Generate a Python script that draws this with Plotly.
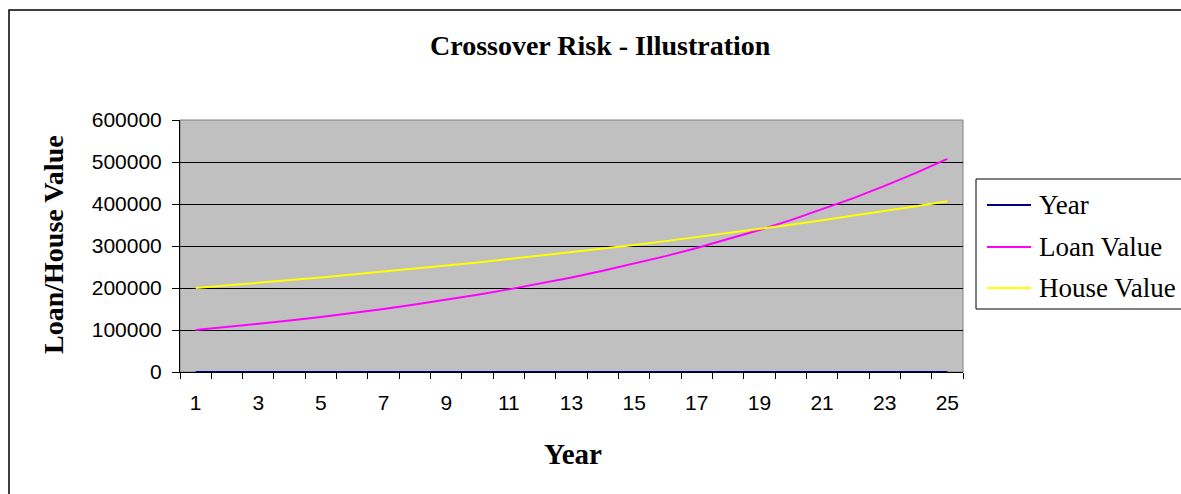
import plotly.graph_objects as go

years = list(range(1, 26))
year_series = list(range(1, 26))
loan_value = [100000, 107000, 114490, 122504, 131080, 140255, 150073, 160578,
              171819, 183846, 196715, 210485, 225219, 240985, 257853, 275903,
              295216, 315882, 337993, 361653, 386968, 414056, 443040, 474053, 507237]
house_value = [200000, 206000, 212180, 218545, 225102, 231855, 238810, 245975,
               253354, 260955, 268783, 276847, 285152, 293707, 302518, 311593,
               320941, 330570, 340487, 350701, 361222, 372059, 383221, 394717, 406558]
series_names = ["Year", "Loan Value", "House Value"]
series_colors = ["#000080", "#FF00FF", "#FFFF00"]
x_tick_labels = [str(y) for y in years[::2]]
y_ticks = [0, 100000, 200000, 300000, 400000, 500000, 600000]

W, H = 1181, 494
L, R, T, B = 180, 963, 120, 372
pw, ph = R - L, B - T

def px(x):
    return (x - L) / pw

def py(y):
    return 1 - (y - T) / ph

SERIF = "Times New Roman, Liberation Serif, serif"
SANS = "Arial, Liberation Sans, sans-serif"

fig = go.Figure()
for name, color, vals in zip(series_names, series_colors,
                             [year_series, loan_value, house_value]):
    fig.add_trace(go.Scatter(x=years, y=vals, name=name, mode="lines",
                             line=dict(color=color, width=2), showlegend=False))

boundaries = [y - 0.5 for y in years] + [years[-1] + 0.5]

shapes = [
    dict(type="rect", xref="paper", yref="paper", x0=0, x1=1, y0=0, y1=1,
         line=dict(color="#808080", width=1), layer="below"),
    dict(type="rect", xref="paper", yref="paper",
         x0=px(9), x1=px(1190), y0=py(10), y1=py(505),
         line=dict(color="black", width=1.5)),
    # legend box
    dict(type="rect", xref="paper", yref="paper",
         x0=px(976), x1=px(1190), y0=py(179), y1=py(309),
         line=dict(color="black", width=1), fillcolor="white"),
]
annotations = [
    dict(text="<b>Crossover Risk - Illustration</b>", xref="paper", yref="paper",
         x=px(600), y=py(46), xanchor="center", yanchor="middle", showarrow=False,
         font=dict(family=SERIF, size=28, color="black")),
    dict(text="<b>Year</b>", xref="paper", yref="paper",
         x=px(573), y=py(454), xanchor="center", yanchor="middle", showarrow=False,
         font=dict(family=SERIF, size=29, color="black")),
    dict(text="<b>Loan/House Value</b>", xref="paper", yref="paper",
         x=px(53), y=py(245), xanchor="center", yanchor="middle", showarrow=False,
         textangle=-90, font=dict(family=SERIF, size=28, color="black")),
]
legend_rows = [205, 247, 288]
for name, color, yrow in zip(series_names, series_colors, legend_rows):
    shapes.append(dict(type="line", xref="paper", yref="paper",
                       x0=px(987), x1=px(1031), y0=py(yrow), y1=py(yrow),
                       line=dict(color=color, width=2)))
    annotations.append(dict(text=name, xref="paper", yref="paper",
                            x=px(1037), y=py(yrow), xanchor="left", yanchor="middle",
                            showarrow=False,
                            font=dict(family=SERIF, size=27, color="black")))

fig.update_layout(
    width=W, height=H,
    margin=dict(l=L, r=W - R, t=T, b=H - B, pad=0),
    paper_bgcolor="white",
    plot_bgcolor="#C0C0C0",
    showlegend=False,
    xaxis=dict(
        range=[0.5, 25.5], tickmode="array",
        tickvals=years[::2], ticktext=x_tick_labels,
        ticks="", showgrid=False, zeroline=False,
        showline=True, linecolor="black", linewidth=1, layer="below traces",
        ticklabelstandoff=12,
        tickfont=dict(family=SANS, size=21, color="black"),
        minor=dict(tickmode="array", tickvals=boundaries, ticks="outside",
                   ticklen=6, tickcolor="black", showgrid=False),
    ),
    yaxis=dict(
        range=[0, 600000], tickmode="array", tickvals=y_ticks,
        ticktext=[str(v) for v in y_ticks],
        ticks="outside", ticklen=7, tickcolor="black",
        showgrid=True, gridcolor="black", gridwidth=1, zeroline=False,
        showline=True, linecolor="black", linewidth=1, layer="below traces",
        ticklabelstandoff=6,
        tickfont=dict(family=SANS, size=21, color="black"),
    ),
    shapes=shapes,
    annotations=annotations,
)

fig.write_html("out.html", config={"displayModeBar": False},
               post_script="document.body.style.margin='0';")
